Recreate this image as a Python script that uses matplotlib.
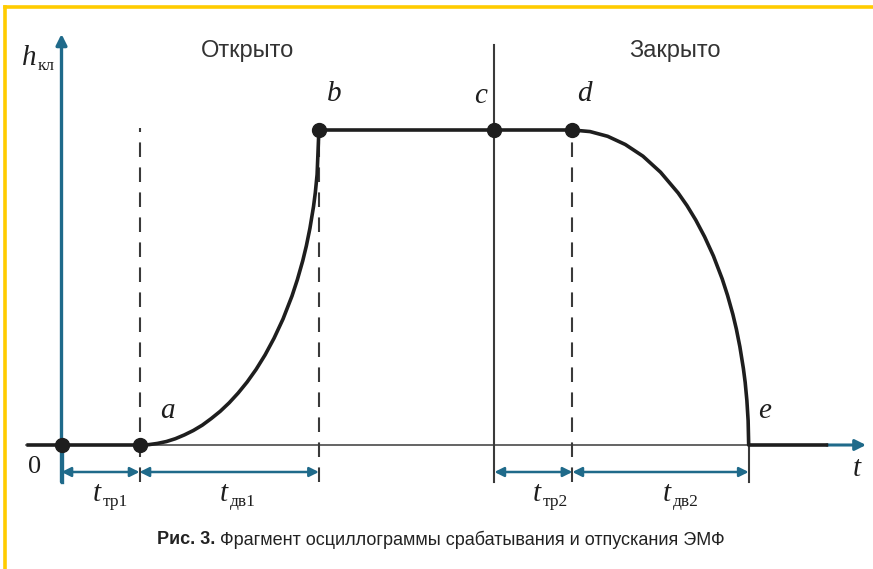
import matplotlib
matplotlib.use("Agg")
import matplotlib.pyplot as plt
from matplotlib.lines import Line2D

W, H, DPI = 873, 569, 100

# event times (arbitrary time units) and valve lift h (0 = closed, 1 = open)
T_EVENTS = {"0": 0.0, "a": 1.0, "b": 3.3, "c": 5.55, "d": 6.55, "e": 8.81}
EVENT_LABELS = ["a", "b", "c", "d", "e"]

# opening stroke a -> b
RISE_T = [1.00, 1.115, 1.23, 1.345, 1.46, 1.575, 1.69, 1.805, 1.92, 2.035,
          2.15, 2.265, 2.38, 2.495, 2.61, 2.725, 2.84, 2.955, 3.024, 3.093,
          3.139, 3.185, 3.231, 3.254, 3.277, 3.30]
RISE_H = [0.0, 0.001, 0.005, 0.011, 0.020, 0.032, 0.046, 0.063, 0.084, 0.107,
          0.134, 0.165, 0.200, 0.240, 0.286, 0.339, 0.400, 0.473, 0.525, 0.585,
          0.632, 0.688, 0.757, 0.801, 0.859, 1.0]

# closing stroke d -> e
FALL_T = [6.55, 6.776, 7.002, 7.228, 7.454, 7.68, 7.906, 8.019, 8.132, 8.245,
          8.358, 8.471, 8.539, 8.607, 8.652, 8.697, 8.742, 8.765, 8.787, 8.803,
          8.81]
FALL_H = [1.0, 0.995, 0.980, 0.954, 0.917, 0.866, 0.800, 0.760, 0.714, 0.661,
          0.600, 0.527, 0.475, 0.415, 0.368, 0.312, 0.243, 0.199, 0.141, 0.077,
          0.0]

T_START, T_END = -0.45, 9.83

# time intervals shown under the axis: start, end, subscript, label x (px)
INTERVALS = [("0", "a", "тр1", 93), ("a", "b", "дв1", 220),
             ("c", "d", "тр2", 533), ("d", "e", "дв2", 663)]

CAPTION_BOLD = "Рис. 3."
CAPTION = "Фрагмент осциллограммы срабатывания и отпускания ЭМФ"

BLUE = "#1f6a8a"
INK = "#1e1e1e"
GREY = "#3a3a3a"
YELLOW = "#ffcc00"

# pixel -> data mapping for the full-figure axes
X0_PX, UNIT_X = 61.5, 78.0
Y0_PX, UNIT_Y = 445.0, 315.0


def px(x, y):
    return (x - X0_PX) / UNIT_X, (Y0_PX - y) / UNIT_Y


fig = plt.figure(figsize=(W / DPI, H / DPI), dpi=DPI)
ax = fig.add_axes([0, 0, 1, 1])
ax.set_xlim((0 - X0_PX) / UNIT_X, (W - X0_PX) / UNIT_X)
ax.set_ylim((Y0_PX - H) / UNIT_Y, Y0_PX / UNIT_Y)
ax.axis("off")

# yellow frame (top and left edges)
fig.add_artist(Line2D([5 / W, 1], [1 - 7 / H, 1 - 7 / H], color=YELLOW, lw=2.6,
                      transform=fig.transFigure))
fig.add_artist(Line2D([5 / W, 5 / W], [0, 1 - 7 / H], color=YELLOW, lw=2.6,
                      transform=fig.transFigure))

ta, tb, tc, td, te = (T_EVENTS[k] for k in EVENT_LABELS)
h_dim = px(0, 472)[1]
h_ext = px(0, 482)[1]

# thin time axis + blue arrow tip
ax.plot([T_START, T_END], [0, 0], color=GREY, lw=1.1, zorder=2)
ax.annotate("", xy=(px(866, 0)[0], 0), xytext=(T_END - 0.02, 0),
            arrowprops=dict(arrowstyle="-|>", color=BLUE, lw=2.2,
                            mutation_scale=16, shrinkA=0, shrinkB=0), zorder=3)

# h axis
ax.annotate("", xy=(0, px(0, 34)[1]), xytext=(0, h_ext),
            arrowprops=dict(arrowstyle="-|>", color=BLUE, lw=2.4,
                            mutation_scale=16, shrinkA=0, shrinkB=0), zorder=3)

# guide lines
for t, top in [(ta, px(0, 128)[1]), (tb, 1.0), (td, 1.0)]:
    ax.plot([t, t], [h_ext, top], color=GREY, lw=1.5, dashes=(7, 5), zorder=2)
ax.plot([tc, tc], [h_ext, px(0, 45)[1]], color=GREY, lw=1.5, zorder=2)
ax.plot([te, te], [h_ext, 0], color=GREY, lw=1.5, zorder=2)

# lift curve
curve_t = [T_START, 0.0] + RISE_T + [tc] + FALL_T + [T_END]
curve_h = [0.0, 0.0] + RISE_H + [1.0] + FALL_H + [0.0]
ax.plot(curve_t, curve_h, color=INK, lw=2.6, solid_capstyle="butt",
        solid_joinstyle="round", zorder=4)

# event points
pts = [("0", 0.0), ("a", 0.0), ("b", 1.0), ("c", 1.0), ("d", 1.0)]
ax.plot([T_EVENTS[k] for k, _ in pts], [h for _, h in pts], "o",
        color=INK, markersize=10, zorder=5)

# dimension arrows
for k1, k2, sub, _ in INTERVALS:
    t1, t2 = T_EVENTS[k1], T_EVENTS[k2]
    ax.annotate("", xy=(t2, h_dim), xytext=(t1, h_dim),
                arrowprops=dict(arrowstyle="<|-|>", color=BLUE, lw=1.8,
                                mutation_scale=14, shrinkA=0, shrinkB=0), zorder=3)
ax.plot([0, 0], [h_ext, 0], color=BLUE, lw=2.4, zorder=3)

serif = ["Liberation Serif", "DejaVu Serif"]
sans = ["Liberation Sans", "DejaVu Sans"]

# event letters
letter_pos = {"a": (167, 411), "b": (334, 94), "c": (481, 96),
              "d": (584, 94), "e": (765, 411)}
for k in EVENT_LABELS:
    x, y = px(*letter_pos[k])
    ax.text(x, y, k, family=serif, style="italic", fontsize=21,
            ha="center", va="center", color=INK)

ax.text(*px(35, 467), "0", family=serif, fontsize=19, ha="center", va="center",
        color=INK)
ax.text(*px(857, 469), "t", family=serif, style="italic", fontsize=21,
        ha="center", va="center", color=INK)

# h_кл axis label
ax.text(*px(29, 58), "h", family=serif, style="italic", fontsize=21,
        ha="center", va="center", color=INK)
ax.text(*px(38, 66), "кл", family=serif, fontsize=12.5, ha="left", va="center",
        color=INK)

# interval labels under the dimension arrows
for k1, k2, sub, xl in INTERVALS:
    ax.text(*px(xl, 494), "t", family=serif, style="italic", fontsize=21,
            ha="left", va="center", color=INK)
    ax.text(*px(xl + 10, 502), sub, family=serif, fontsize=12.5, ha="left",
            va="center", color=INK)

ax.text(*px(247, 51), "Открыто", family=sans, fontsize=17, ha="center",
        va="center", color="#333333")
ax.text(*px(675, 51), "Закрыто", family=sans, fontsize=17, ha="center",
        va="center", color="#333333")

# caption
cap_bold = ax.text(*px(157, 540), CAPTION_BOLD + " ", family=sans, fontsize=13,
                   fontweight="bold", ha="left", va="center", color="#222222")
fig.canvas.draw()
bb = cap_bold.get_window_extent()
ax.text(bb.x1 / W, 1 - 540 / H, CAPTION, transform=fig.transFigure,
        family=sans, fontsize=13, ha="left", va="center", color="#222222")

fig.savefig("out.png", dpi=DPI)
